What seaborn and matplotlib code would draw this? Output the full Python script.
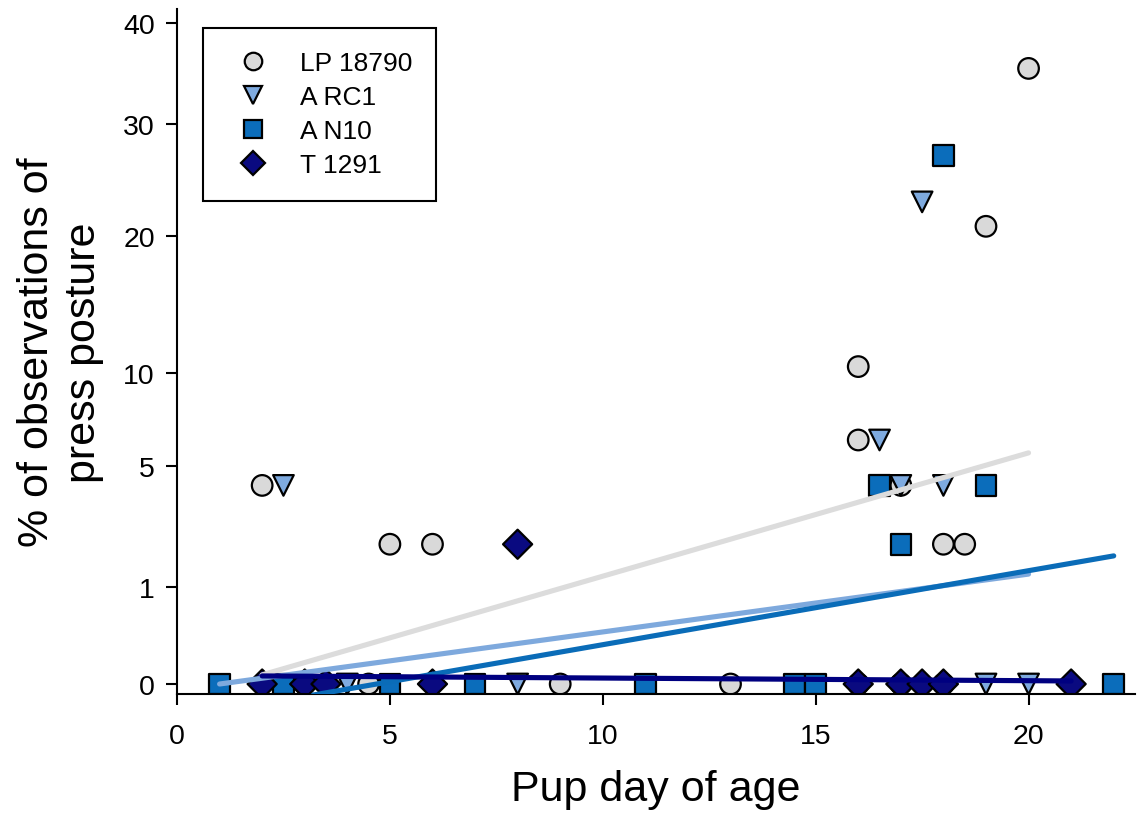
import numpy as np
import pandas as pd
import seaborn as sns
import matplotlib.pyplot as plt
from matplotlib.ticker import FixedLocator

# strains
strains = ["LP 18790", "A RC1", "A N10", "T 1291"]

# observed points (day, % of observations)
lp_day = [2, 5, 6, 16, 16, 17, 18, 18.5, 19, 20, 3, 4.5, 9, 13, 16, 17, 18]
lp_pct = [4.17, 2.08, 2.08, 10.42, 6.25, 4.17, 2.08, 2.08, 20.83, 35.42, 0, 0, 0, 0, 0, 0, 0]

rc1_day = [2.5, 16.5, 17, 17.5, 18, 4, 8, 19, 20]
rc1_pct = [4.17, 6.25, 4.17, 22.92, 4.17, 0, 0, 0, 0]

n10_day = [16.5, 17, 18, 19, 1, 2.5, 5, 7, 11, 14.5, 15, 22]
n10_pct = [4.17, 2.08, 27.08, 4.17, 0, 0, 0, 0, 0, 0, 0, 0]

t_day = [8, 2, 3, 3.5, 6, 16, 17, 17.5, 18, 21]
t_pct = [2.08, 0, 0, 0, 0, 0, 0, 0, 0, 0]

# fitted trend lines (start/end)
lp_fit_day = [2, 20]
lp_fit_pct = [0.009, 5.62]
rc1_fit_day = [1, 20]
rc1_fit_pct = [0.0, 1.29]
n10_fit_day = [3.2, 22]
n10_fit_pct = [-0.013, 1.75]
t_fit_day = [2, 21]
t_fit_pct = [0.007, 0.001]

y_ticks = [0, 1, 5, 10, 20, 30, 40]
x_ticks = [0, 5, 10, 15, 20]

df = pd.concat([
    pd.DataFrame({"day": lp_day, "pct": lp_pct, "strain": strains[0]}),
    pd.DataFrame({"day": rc1_day, "pct": rc1_pct, "strain": strains[1]}),
    pd.DataFrame({"day": n10_day, "pct": n10_pct, "strain": strains[2]}),
    pd.DataFrame({"day": t_day, "pct": t_pct, "strain": strains[3]}),
], ignore_index=True)

fits = pd.concat([
    pd.DataFrame({"day": lp_fit_day, "pct": lp_fit_pct, "strain": strains[0]}),
    pd.DataFrame({"day": rc1_fit_day, "pct": rc1_fit_pct, "strain": strains[1]}),
    pd.DataFrame({"day": n10_fit_day, "pct": n10_fit_pct, "strain": strains[2]}),
    pd.DataFrame({"day": t_fit_day, "pct": t_fit_pct, "strain": strains[3]}),
], ignore_index=True)

sns.set_style("ticks")
plt.rcParams['font.family'] = ['Liberation Sans', 'DejaVu Sans']
plt.rcParams['text.color'] = 'black'
plt.rcParams['axes.labelcolor'] = 'black'
plt.rcParams['xtick.color'] = 'black'
plt.rcParams['ytick.color'] = 'black'


# arcsine square-root scale for percentages
def fwd(y):
    y = np.asarray(y, dtype=float)
    return np.sign(y) * np.arcsin(np.sqrt(np.clip(np.abs(y) / 100.0, 0, 1)))


def inv(u):
    u = np.asarray(u, dtype=float)
    return np.sign(u) * np.sin(np.clip(np.abs(u), 0, np.pi / 2)) ** 2 * 100.0


marker_colors = {"LP 18790": "#d9d9d9", "A RC1": "#7eaadf",
                 "A N10": "#0b6dbb", "T 1291": "#0a0a80"}
line_colors = {"LP 18790": "#dcdcdc", "A RC1": "#7ea9dd",
               "A N10": "#0a6cb8", "T 1291": "#000080"}
markers = {"LP 18790": "o", "A RC1": "v", "A N10": "s", "T 1291": "D"}

fig = plt.figure(figsize=(11.44, 8.2), dpi=100)
ax = fig.add_axes([177 / 1144, 1 - 695 / 820, (1135 - 177) / 1144, (695 - 10) / 820])
ax.set_yscale("function", functions=(fwd, inv))

sns.scatterplot(data=df, x="day", y="pct", hue="strain", style="strain",
                hue_order=strains, style_order=strains, palette=marker_colors,
                markers=markers, s=220, edgecolor="black", linewidth=1.6,
                ax=ax, zorder=2)

sns.lineplot(data=fits, x="day", y="pct", hue="strain", hue_order=strains,
             palette=line_colors, linewidth=3.7, legend=False, ax=ax,
             zorder=3, solid_capstyle="round")

ax.set_xlim(0, 22.5)
ax.set_ylim(-0.0107, 41.4)
ax.yaxis.set_major_locator(FixedLocator(y_ticks))
ax.set_yticklabels([str(t) for t in y_ticks])
ax.set_xticks(x_ticks)
ax.minorticks_off()

ax.tick_params(axis="both", labelsize=20.5, length=8, width=1.5, direction="out")
ax.tick_params(axis="x", pad=13)
ax.tick_params(axis="y", pad=8)
for side in ["left", "bottom"]:
    ax.spines[side].set_linewidth(1.5)
    ax.spines[side].set_color("black")
sns.despine(ax=ax)

ax.set_xlabel("Pup day of age", fontsize=31, labelpad=14)
ax.set_ylabel("% of observations of\npress posture", fontsize=31, labelpad=14)

handles, labels = ax.get_legend_handles_labels()
leg = ax.legend(handles, labels, loc="upper left",
                bbox_to_anchor=(203 / 1144, 1 - 29 / 820),
                bbox_transform=fig.transFigure, borderaxespad=0,
                fontsize=19, frameon=True, fancybox=False, framealpha=1,
                edgecolor="black", borderpad=0.88, labelspacing=0.38,
                handlelength=2.0, handletextpad=0.8, markerscale=0.85)
leg.get_frame().set_linewidth(1.5)

fig.savefig("out.png", dpi=100)
